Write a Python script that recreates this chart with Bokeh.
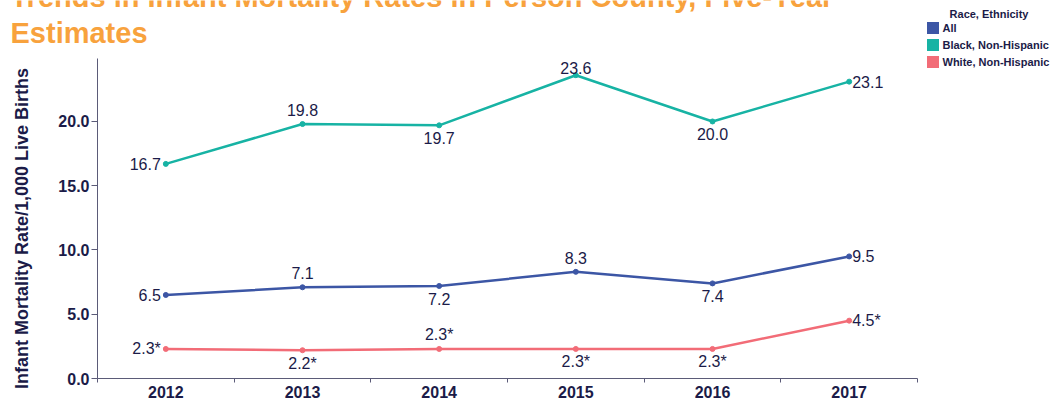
import math
from bokeh.plotting import figure
from bokeh.models import (ColumnDataSource, LabelSet, Label, Legend, LegendItem,
                          FixedTicker, NumeralTickFormatter, Range1d, BasicTickFormatter)
from bokeh.core.properties import value
from bokeh.embed import file_html
from bokeh.resources import INLINE

# ---- data ----
years = [2012, 2013, 2014, 2015, 2016, 2017]
all_rates = [6.5, 7.1, 7.2, 8.3, 7.4, 9.5]
black_rates = [16.7, 19.8, 19.7, 23.6, 20.0, 23.1]
white_rates = [2.3, 2.2, 2.3, 2.3, 2.3, 4.5]
all_labels = ["6.5", "7.1", "7.2", "8.3", "7.4", "9.5"]
black_labels = ["16.7", "19.8", "19.7", "23.6", "20.0", "23.1"]
white_labels = ["2.3*", "2.2*", "2.3*", "2.3*", "2.3*", "4.5*"]
series_names = ["All", "Black, Non-Hispanic", "White, Non-Hispanic"]
y_ticks = [0, 5, 10, 15, 20]
y_max = 24.9
title_line1 = "Trends in Infant Mortality Rates in Person County, Five-Year"
title_line2 = "Estimates"
y_title = "Infant Mortality Rate/1,000 Live Births"
legend_title = "Race, Ethnicity"

# label placement per point (style)
all_place = ["left", "above", "below", "above", "below", "right"]
black_place = ["left", "above", "below", "over", "below", "right"]
white_place = ["left", "below", "above", "below", "below", "right"]

# ---- layout (pixels) ----
W, H = 1064, 402
PLOT_L, PLOT_R, PLOT_T, PLOT_B = 97, 917, 58, 378

# ---- styles ----
FONT = "Liberation Sans"
NAVY = "#1b1b48"
AXIS = "#5b5b78"
ORANGE = "#f8a23d"
colors = ["#3c56a5", "#17b3a4", "#f26c77"]

x_lo, x_hi = years[0] - 0.5, years[-1] + 0.5
xs = (PLOT_R - PLOT_L) / (x_hi - x_lo)
ys = (PLOT_B - PLOT_T) / (y_max - 0)
x_range = Range1d(x_lo - PLOT_L / xs, x_hi + (W - PLOT_R) / xs)
y_range = Range1d(0 - (H - PLOT_B) / ys, y_max + PLOT_T / ys)

p = figure(width=W, height=H, x_range=x_range, y_range=y_range,
           output_backend="svg", toolbar_location=None,
           min_border_left=0, min_border_right=0, min_border_top=0, min_border_bottom=0)
p.outline_line_color = None
p.grid.visible = False
p.background_fill_color = "white"
p.border_fill_color = "white"

# axes (fixed inside the full-canvas frame)
xa = p.xaxis[0]
xa.fixed_location = 0
xa.bounds = (x_lo, x_hi)
xa.ticker = FixedTicker(ticks=years, minor_ticks=[y - 0.5 for y in years] + [years[-1] + 0.5])
xa.formatter = BasicTickFormatter(use_scientific=False)
xa.major_tick_out = 0
xa.major_tick_in = 0
xa.minor_tick_out = 4
xa.minor_tick_in = 0
xa.major_label_standoff = 3

ya = p.yaxis[0]
ya.fixed_location = x_lo
ya.bounds = (0, y_max)
ya.ticker = FixedTicker(ticks=y_ticks, minor_ticks=[])
ya.formatter = NumeralTickFormatter(format="0.0")
ya.major_tick_out = 6
ya.major_tick_in = 0
ya.minor_tick_out = 0
ya.major_label_standoff = 2

for ax in [xa, ya]:
    ax.axis_line_color = AXIS
    ax.major_tick_line_color = AXIS
    ax.minor_tick_line_color = AXIS
    ax.major_label_text_font = FONT
    ax.major_label_text_font_style = "bold"
    ax.major_label_text_font_size = "16px"
    ax.major_label_text_color = NAVY

# y-axis title
p.add_layout(Label(x=21.5, y=H - 228, x_units="screen", y_units="screen", text=y_title,
                   angle=math.pi / 2, text_align="center", text_baseline="middle",
                   text_font=FONT, text_font_size="18px", text_font_style="bold",
                   text_color=NAVY))

offsets = {
    "left": (-5, 0, "right"),
    "right": (3, 0, "left"),
    "above": (0, 14, "center"),
    "over": (0, 7, "center"),
    "below": (0, -13, "center"),
}

series = [(all_rates, all_labels, all_place), (black_rates, black_labels, black_place),
          (white_rates, white_labels, white_place)]

legend_items = []
for (vals, labs, places), name, c in zip(series, series_names, colors):
    src = ColumnDataSource(dict(x=years, y=vals, t=labs))
    p.line("x", "y", source=src, line_color=c, line_width=2.5)
    p.scatter("x", "y", source=src, size=5, fill_color=c, line_color=c)
    for key, (dx, dy, align) in offsets.items():
        idx = [i for i, pl in enumerate(places) if pl == key]
        if not idx:
            continue
        s = ColumnDataSource(dict(x=[years[i] for i in idx], y=[vals[i] for i in idx],
                                  t=[labs[i] for i in idx]))
        p.add_layout(LabelSet(x="x", y="y", text="t", source=s, x_offset=dx, y_offset=dy,
                              text_align=value(align), text_baseline=value("middle"),
                              text_font=value(FONT), text_font_size=value("16px"),
                              text_color=value(NAVY)))
    # zero-area proxy glyph, only used for the legend swatch
    dummy = p.quad(left=[x_lo], right=[x_lo], top=[0], bottom=[0],
                   fill_color=c, line_color=None)
    legend_items.append(LegendItem(label=name, renderers=[dummy]))

legend = Legend(items=legend_items, location=(924.5, H - 69), orientation="vertical",
                glyph_width=15, glyph_height=15, label_height=15, spacing=2, padding=0,
                margin=0, border_line_color=None, background_fill_alpha=0,
                label_standoff=3, label_text_font=FONT, label_text_font_size="11px",
                label_text_font_style="bold", label_text_color=NAVY)
p.add_layout(legend)

p.add_layout(Label(x=988.5, y=H - 13, x_units="screen", y_units="screen", text=legend_title,
                   text_align="center", text_baseline="middle", text_font=FONT,
                   text_font_size="11px", text_font_style="bold", text_color=NAVY))

for txt, base in [(title_line1, -4), (title_line2, 32)]:
    p.add_layout(Label(x=10, y=H - base, x_units="screen", y_units="screen", text=txt,
                       text_align="left", text_baseline="alphabetic", text_font=FONT,
                       text_font_size="29px", text_font_style="bold", text_color=ORANGE))

open("out.html", "w").write(file_html(p, INLINE))
